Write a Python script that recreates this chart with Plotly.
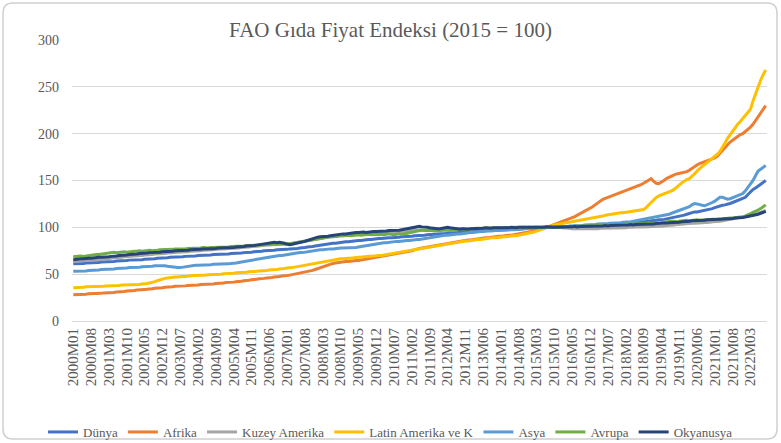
import plotly.graph_objects as go

# ---------------- data ----------------
months = [f"{y}M{m:02d}" for y in range(2000, 2023) for m in range(1, 13)][:273]

tick_labels = ["2000M01", "2000M08", "2001M03", "2001M10", "2002M05", "2002M12", "2003M07",
               "2004M02", "2004M09", "2005M04", "2005M11", "2006M06", "2007M01", "2007M08",
               "2008M03", "2008M10", "2009M05", "2009M12", "2010M07", "2011M02", "2011M09",
               "2012M04", "2012M11", "2013M06", "2014M01", "2014M08", "2015M03", "2015M10",
               "2016M05", "2016M12", "2017M07", "2018M02", "2018M09", "2019M04", "2019M11",
               "2020M06", "2021M01", "2021M08", "2022M03"]

dunya = [
    61, 61, 61.5, 61.5, 61.5, 62, 62, 62, 62.5, 62.5, 62.5, 63,
    63, 63, 63, 63.5, 63.5, 64, 64, 64, 64.5, 64.5, 65, 65,
    65, 65.5, 65.5, 65.5, 66, 66, 66, 66.5, 66.5, 67, 67, 67.5,
    67.5, 67.5, 68, 68, 68, 68.5, 68.5, 68.5, 69, 69, 69.5, 69.5,
    69.5, 70, 70, 70, 70.5, 70.5, 70.5, 71, 71, 71, 71.5, 71.5,
    71.5, 71.5, 72, 72, 72.5, 72.5, 72.5, 73, 73, 73.5, 73.5, 74,
    74, 74.5, 74.5, 75, 75, 75, 75.5, 75.5, 76, 76, 76.5, 76.5,
    76.5, 77, 77, 77.5, 77.5, 78, 78, 78.5, 79, 79, 79.5, 80,
    80.5, 81, 81.5, 82, 82, 82.5, 83, 83, 83.5, 84, 84, 84.5,
    84.5, 85, 85, 85.5, 86, 86, 86.5, 86.5, 87, 87, 87.5, 87.5,
    88, 88, 88.5, 88.5, 89, 89, 89, 89.5, 89.5, 90, 90, 90.5,
    90.5, 90.5, 91, 91, 91, 91.5, 91.5, 92, 92, 92.5, 92.5, 93,
    93, 93.5, 93.5, 94, 94, 94, 94.5, 94.5, 95, 95, 95.5, 95.5,
    95.5, 96, 96, 96, 96.5, 96.5, 96.5, 97, 97, 97, 97.5, 97.5,
    97.5, 97.5, 98, 98, 98, 98, 98, 98.5, 98.5, 98.5, 99, 99,
    99, 99, 99.5, 99.5, 99.5, 100, 100, 100, 100.5, 100.5, 100.5, 100.5,
    100.5, 100.5, 100.5, 101, 101, 101, 101, 101.5, 101.5, 101.5, 102, 102,
    102, 102, 102.5, 102.5, 102.5, 103, 103, 103, 103.5, 103.5, 103.5, 104,
    104, 104, 104.5, 104.5, 105, 105, 105.5, 105.5, 106, 106, 106.5, 107,
    107, 107.5, 108, 108, 108.5, 109, 109.5, 110, 110.5, 111, 111.5, 112,
    113, 114, 115, 116, 116.5, 116.5, 117, 117.5, 118, 118.5, 119, 120,
    121, 122, 123, 123.5, 124, 124.5, 125.5, 126.5, 127.5, 128.5, 129.5, 130.5,
    132, 135, 138, 140.5, 142, 144, 146, 148, 150]

afrika = [
    28, 28, 28, 28.5, 28.5, 28.5, 29, 29, 29, 29.5, 29.5, 29.5,
    30, 30, 30, 30.5, 30.5, 31, 31, 31.5, 31.5, 32, 32, 32.5,
    32.5, 33, 33, 33.5, 33.5, 34, 34, 34.5, 35, 35, 35.5, 35.5,
    36, 36, 36.5, 36.5, 37, 37, 37.5, 37.5, 37.5, 38, 38, 38.5,
    38.5, 38.5, 39, 39, 39, 39.5, 39.5, 39.5, 40, 40, 40.5, 40.5,
    41, 41, 41.5, 41.5, 42, 42, 42.5, 43, 43, 43.5, 44, 44,
    44.5, 45, 45, 45.5, 46, 46, 46.5, 47, 47, 47.5, 48, 48,
    48.5, 49, 49.5, 50, 50.5, 51, 51.5, 52, 53, 53.5, 54, 55,
    56, 57, 58, 59, 60, 61, 61.5, 62, 62.5, 63, 63, 63.5,
    63.5, 64, 64, 64.5, 64.5, 65, 65.5, 66, 66.5, 67, 67.5, 68,
    68.5, 69, 69.5, 70, 70, 70.5, 71, 71.5, 72, 72.5, 73, 73.5,
    74, 75, 76, 77, 77.5, 78, 78.5, 79, 79.5, 80, 80.5, 81,
    81.5, 82, 82.5, 83, 83.5, 84, 84, 84.5, 85, 85.5, 86, 86.5,
    86.5, 87, 87.5, 88, 88, 88.5, 89, 89, 89.5, 90, 90, 90.5,
    90.5, 91, 91, 91.5, 91.5, 92, 92, 92.5, 93, 93.5, 94, 94.5,
    95, 96, 97, 98, 99, 100, 100.5, 101, 102, 103, 104, 105,
    106, 107, 108, 109, 110, 111.5, 113, 114.5, 116, 117, 118.5, 120,
    122, 124, 126, 128, 130, 131, 132, 133, 134, 135, 136, 137,
    138, 139, 140, 141, 142, 143, 144, 145.5, 147, 148.5, 150, 152,
    149, 147, 146.5, 148, 150, 152, 153.5, 155, 156, 157, 157.5, 158,
    158.5, 159.5, 161, 163, 165, 166.5, 168, 169, 170, 171, 172, 173,
    174, 176, 179, 182, 185, 189, 191, 193, 195, 197, 199, 200,
    202, 204, 207, 210, 214, 218, 222, 226, 230]

kuzey_amerika = [
    63.5, 64, 64, 64.5, 64.5, 64.5, 65, 65, 65.5, 65.5, 66, 66,
    66.5, 66.5, 67, 67, 67.5, 67.5, 68, 68, 68.5, 68.5, 69, 69,
    69.5, 69.5, 70, 70, 70.5, 70.5, 71, 71, 71.5, 71.5, 72, 72,
    72, 72.5, 72.5, 73, 73, 73.5, 73.5, 73.5, 74, 74, 74.5, 74.5,
    74.5, 75, 75, 75.5, 75.5, 76, 76, 76, 76.5, 76.5, 77, 77,
    77, 77.5, 77.5, 78, 78, 78, 78.5, 78.5, 79, 79, 79.5, 79.5,
    80, 80, 80.5, 80.5, 81, 81, 81.5, 81.5, 81.5, 82, 82, 82,
    82, 82.5, 83, 83.5, 84, 84.5, 85, 85.5, 86, 86.5, 87, 87.5,
    88, 88.5, 89, 89, 89.5, 90, 90, 90.5, 90.5, 91, 91, 91,
    91.5, 91.5, 92, 92, 92, 92.5, 92.5, 93, 93, 93, 93.5, 93.5,
    93.5, 93.5, 94, 94, 94, 94.5, 94.5, 94.5, 95, 95, 95.5, 95.5,
    96, 96, 96.5, 96.5, 97, 97, 97, 97.5, 97.5, 97.5, 97.5, 97.5,
    97.5, 97.5, 98, 98, 98, 98, 98, 98, 98.5, 98.5, 98.5, 98.5,
    98.5, 98.5, 98.5, 99, 99, 99, 99, 99, 99, 99.5, 99.5, 99.5,
    99.5, 99.5, 99.5, 99.5, 99.5, 100, 100, 100, 100, 100, 100, 100,
    99.5, 99.5, 100, 100, 100, 100, 100, 100, 100, 100.5, 100.5, 100,
    99.5, 99.5, 99, 99, 98.5, 98.5, 98.5, 98, 98, 98, 98.5, 98.5,
    98.5, 98.5, 98.5, 99, 99, 99, 99, 99, 99.5, 99.5, 99.5, 99.5,
    99.5, 99.5, 100, 100, 100, 100, 100, 100, 100.5, 100.5, 100.5, 101,
    101, 101, 101.5, 101.5, 101.5, 102, 102, 102.5, 102.5, 103, 103, 103.5,
    103.5, 104, 104, 104, 104.5, 104.5, 104.5, 105, 105, 105.5, 105.5, 106,
    106, 106.5, 106.5, 107, 107.5, 107.5, 108, 108.5, 109, 109.5, 110, 110.5,
    111, 111.5, 112.5, 113, 114, 115, 116, 117, 118]

latin_amerika = [
    35.5, 35.5, 36, 36, 36, 36.5, 36.5, 36.5, 37, 37, 37, 37,
    37, 37.5, 37.5, 37.5, 38, 38, 38, 38.5, 38.5, 38.5, 39, 39,
    39, 39, 39, 39.5, 39.5, 40, 40.5, 41, 42, 43, 44, 45,
    45.5, 46, 46.5, 46.5, 47, 47, 47.5, 47.5, 47.5, 48, 48, 48.5,
    48.5, 48.5, 49, 49, 49, 49.5, 49.5, 49.5, 50, 50, 50, 50.5,
    50.5, 51, 51, 51, 51.5, 51.5, 52, 52, 52, 52.5, 52.5, 53,
    53, 53.5, 53.5, 54, 54, 54.5, 54.5, 55, 55, 55.5, 55.5, 56,
    56.5, 56.5, 57, 57.5, 58, 58.5, 59, 59.5, 60, 60.5, 61, 62,
    62.5, 63, 63.5, 64, 64.5, 65, 65.5, 66, 66, 66.5, 66.5, 67,
    67, 67, 67.5, 67.5, 68, 68, 68.5, 68.5, 69, 69, 69.5, 69.5,
    70, 70, 70.5, 71, 71, 71.5, 72, 72.5, 73, 73.5, 74, 74.5,
    75, 75.5, 76, 76.5, 77, 77.5, 78, 78.5, 79, 79.5, 80, 80.5,
    81, 81.5, 82, 82, 82.5, 83, 83.5, 84, 84.5, 85, 85.5, 85.5,
    86, 86, 86.5, 87, 87, 87.5, 88, 88, 88.5, 89, 89, 89.5,
    89.5, 90, 90, 90.5, 90.5, 91, 91, 91.5, 92, 92.5, 93, 93.5,
    94, 95, 96, 97, 98, 99, 100, 101, 102, 102.5, 103, 103.5,
    104, 104, 104.5, 105, 105.5, 106, 106.5, 107, 107.5, 108, 108.5, 109,
    109.5, 110, 110.5, 111, 112, 113, 113.5, 114, 114.5, 115, 115, 115.5,
    115.5, 116, 116, 116.5, 117, 117.5, 118, 118.5, 119, 121, 124, 127,
    130, 132, 133.5, 134.5, 135.5, 137, 138, 139, 140.5, 142.5, 145, 147.5,
    149.5, 151, 152, 154, 157, 160, 163, 165, 167, 169, 171, 173,
    175, 178, 181, 185, 190, 195, 199, 203, 207, 210, 213, 216,
    220, 222, 226, 235, 243, 250, 257, 263, 268]

asya = [
    53, 53, 53.5, 53.5, 53, 53.5, 54, 54, 54, 54.5, 54.5, 55,
    55, 55, 55.5, 55.5, 55.5, 56, 56, 56, 56.5, 56.5, 57, 57,
    57, 57.5, 57.5, 58, 58, 58, 58.5, 58.5, 59, 59, 59, 59.5,
    59, 58.5, 58, 57.5, 57, 57, 57, 57.5, 58, 58.5, 59, 59,
    59.5, 59.5, 59.5, 60, 60, 60, 60, 60.5, 60.5, 60.5, 60.5, 61,
    61, 61, 61.5, 61.5, 62, 62.5, 63, 63.5, 64, 64.5, 65, 65.5,
    66, 66.5, 67, 67.5, 68, 68, 68.5, 69, 69.5, 70, 70, 70.5,
    71, 71.5, 72, 72, 72.5, 73, 73, 73.5, 74, 74, 74.5, 75,
    75.5, 76, 76, 76.5, 76.5, 77, 77, 77.5, 77.5, 78, 78, 78,
    78, 78.5, 78.5, 78.5, 79, 79.5, 80, 80.5, 81, 81.5, 82, 82.5,
    83, 83, 83.5, 83.5, 84, 84.5, 84.5, 85, 85, 85.5, 85.5, 86,
    86, 86.5, 86.5, 87, 87, 87.5, 88, 88, 88.5, 89, 89.5, 90,
    90.5, 91, 91.5, 91.5, 92, 92.5, 92.5, 93, 93, 93.5, 94, 94,
    94.5, 94.5, 95, 95, 95.5, 95.5, 96, 96, 96, 96.5, 96.5, 96.5,
    97, 97, 97, 97.5, 97.5, 97.5, 97.5, 98, 98, 98.5, 98.5, 98.5,
    99, 99, 99.5, 99.5, 100, 100, 100, 100.5, 100.5, 100.5, 100.5, 101,
    101, 101, 101, 101.5, 101.5, 101.5, 102, 102, 102, 102.5, 102.5, 103,
    103, 103, 103.5, 103.5, 103.5, 104, 104, 104.5, 104.5, 105, 105, 105,
    105.5, 105.5, 106, 106, 106.5, 107, 107.5, 108, 108.5, 109, 109.5, 110,
    111, 111.5, 112, 112.5, 113, 113.5, 114, 115, 116, 117, 118, 119,
    120, 121, 122, 124, 125.5, 125, 124, 123.5, 123, 124, 125, 126.5,
    128, 130, 132, 132, 131, 130, 130.5, 131.5, 133, 134, 135, 136,
    139, 142.5, 146, 150, 155, 160, 162, 164, 166]

avrupa = [
    68.5, 69, 69, 69.5, 69, 69.5, 70, 70, 70.5, 71, 71, 71.5,
    72, 72.5, 73, 73, 73.5, 73, 73.5, 74, 74, 73.5, 74, 74,
    74.5, 74.5, 75, 74.5, 75, 75, 75.5, 75, 75, 75.5, 76, 76,
    76, 76.5, 76, 76.5, 77, 77, 76.5, 77, 77, 77.5, 77.5, 78,
    77.5, 78, 78, 78.5, 78, 78, 78.5, 78.5, 79, 78.5, 79, 79,
    79, 79, 79.5, 79.5, 80, 79.5, 80, 80, 80.5, 80.5, 81, 81,
    81, 81.5, 81.5, 82, 82, 81.5, 82, 82.5, 82, 82.5, 82.5, 83,
    82, 82.5, 83, 83.5, 84, 84.5, 85, 85.5, 86, 86.5, 87, 87.5,
    88, 88.5, 89, 89, 89.5, 90, 90, 90.5, 90.5, 91, 91, 91.5,
    91.5, 91, 91.5, 92, 92, 91.5, 92, 92, 92.5, 92, 92.5, 92.5,
    92, 92.5, 92, 92.5, 93, 92.5, 92, 92.5, 93, 92.5, 93, 93.5,
    94, 95, 95.5, 96, 96.5, 97, 96.5, 96.5, 97, 96.5, 96, 96.5,
    96.5, 97, 97, 97.5, 97, 97.5, 98, 98, 98, 98.5, 98, 98,
    98.5, 98.5, 99, 98.5, 98.5, 99, 99, 98.5, 99, 99, 99, 99.5,
    99, 99.5, 99.5, 99, 99.5, 99.5, 99, 99.5, 99.5, 100, 99.5, 100,
    99.5, 100, 100, 99.5, 100, 100, 100, 100, 100.5, 100, 100.5, 100,
    100.5, 100.5, 101, 100.5, 101, 101, 101.5, 101, 101.5, 101.5, 102, 101.5,
    102, 102, 102.5, 102, 102, 102.5, 102.5, 103, 102.5, 103, 103, 103,
    103, 103.5, 103, 103, 103.5, 103.5, 104, 103.5, 104, 104, 104.5, 104,
    104.5, 104.5, 105, 105, 105.5, 106, 106, 106.5, 106.5, 106, 106.5, 107,
    107, 107.5, 107, 107.5, 107.5, 108, 107.5, 108, 108, 108, 108.5, 108.5,
    108.5, 109, 109, 109, 109.5, 109.5, 110, 110, 110.5, 110.5, 111, 111,
    112, 113, 114.5, 116, 117, 118.5, 120, 122, 124]

okyanusya = [
    65.5, 66, 66, 66.5, 66.5, 67, 67, 67, 67.5, 67.5, 68, 68,
    68, 68.5, 68.5, 69, 69, 69.5, 70, 70, 70.5, 70.5, 71, 71,
    71.5, 71.5, 72, 72, 72.5, 72.5, 73, 73, 73, 73.5, 73.5, 74,
    74, 74, 74.5, 74.5, 75, 75, 75, 75.5, 75.5, 75.5, 76, 76,
    76, 76.5, 76.5, 77, 77, 77, 77.5, 77.5, 77.5, 78, 78, 78,
    78, 78.5, 78.5, 78.5, 79, 79, 79.5, 79.5, 80, 80, 80.5, 80.5,
    81, 81.5, 82, 82.5, 83, 83.5, 84, 84, 83.5, 84, 83.5, 83,
    82, 81.5, 82, 82.5, 83, 84, 84.5, 85, 86, 87, 88, 89,
    89.5, 90, 90, 90.5, 90.5, 91, 91.5, 92, 92, 92.5, 93, 93,
    93.5, 93.5, 94, 94.5, 94.5, 95, 95, 94.5, 95, 95, 95.5, 95.5,
    95.5, 95.5, 96, 96, 96.5, 96.5, 96.5, 97, 97, 97.5, 98, 98.5,
    99, 99.5, 100, 100.5, 101, 100.5, 100.5, 100, 99.5, 99, 99, 98.5,
    98.5, 99, 99.5, 100, 99.5, 99, 98.5, 98.5, 98, 98.5, 98, 98,
    98.5, 98.5, 99, 98.5, 99, 99, 99.5, 99, 99, 99.5, 99.5, 99,
    99, 99.5, 99.5, 99.5, 100, 99.5, 99.5, 100, 100, 99.5, 100, 100,
    100, 100, 99.5, 100, 100, 100, 100.5, 100, 100, 100, 100, 100.5,
    100, 100.5, 100.5, 100, 100.5, 101, 100.5, 101, 101, 101, 101.5, 101,
    101, 101.5, 101, 101.5, 101.5, 102, 101.5, 102, 102, 102, 102.5, 102,
    102.5, 102.5, 102.5, 103, 102.5, 103, 103, 103, 103.5, 103, 103.5, 103.5,
    103.5, 104, 104, 104, 104.5, 104.5, 105, 105, 105, 105.5, 105.5, 106,
    106, 106.5, 106.5, 107, 107, 107, 107.5, 107.5, 107.5, 108, 108, 108,
    108, 108.5, 108.5, 109, 109, 109, 109.5, 109.5, 110, 110, 110.5, 110.5,
    111, 111.5, 112, 113, 113.5, 114, 115, 116, 117]

series_names = ["Dünya", "Afrika", "Kuzey Amerika", "Latin Amerika ve K", "Asya", "Avrupa", "Okyanusya"]
series_values = [dunya, afrika, kuzey_amerika, latin_amerika, asya, avrupa, okyanusya]
series_colors = ["#4472C4", "#ED7D31", "#A5A5A5", "#FFC000", "#5B9BD5", "#70AD47", "#264478"]

y_ticks = [0, 50, 100, 150, 200, 250, 300]

# ---------------- figure ----------------
W, H = 781, 443
ML, MR, MT, MB = 72, 14, 40, 122
PW, PH = W - ML - MR, H - MT - MB
FONT = "Liberation Serif"
TXT = "#595959"

fig = go.Figure()
for name, vals, col in zip(series_names, series_values, series_colors):
    fig.add_trace(go.Scatter(x=months, y=vals, mode="lines", name=name,
                             line=dict(color=col, width=3)))


def px2paper(px, py):
    return (px - ML) / PW, (H - MB - py) / PH


def P(px, py):
    a, b = px2paper(px, py)
    return f"{a:.5f},{b:.5f}"


# rounded chart border
x0, y0, x1, y1, r = 3, 3, 777, 439, 10
path = (f"M {P(x0 + r, y0)} L {P(x1 - r, y0)} Q {P(x1, y0)} {P(x1, y0 + r)} "
        f"L {P(x1, y1 - r)} Q {P(x1, y1)} {P(x1 - r, y1)} "
        f"L {P(x0 + r, y1)} Q {P(x0, y1)} {P(x0, y1 - r)} "
        f"L {P(x0, y0 + r)} Q {P(x0, y0)} {P(x0 + r, y0)} Z")
fig.add_shape(type="path", xref="paper", yref="paper", path=path,
              line=dict(color="#d0d0d0", width=1.5), layer="below")

fig.update_layout(
    width=W, height=H, autosize=False,
    margin=dict(l=ML, r=MR, t=MT, b=MB, pad=0),
    paper_bgcolor="white", plot_bgcolor="white",
    font=dict(family=FONT, color=TXT, size=13),
    title=dict(text="FAO Gıda Fiyat Endeksi (2015 = 100)", x=0.5, xanchor="center",
               xref="container", y=1 - 30 / H, yanchor="middle",
               font=dict(family=FONT, size=21, color=TXT)),
    showlegend=True,
    legend=dict(orientation="h", xref="container", x=0.5, xanchor="center",
                yref="container", y=1 - 432 / H, yanchor="middle",
                font=dict(family=FONT, size=13, color=TXT),
                itemwidth=30, tracegroupgap=0, borderwidth=0,
                bgcolor="rgba(0,0,0,0)"),
    xaxis=dict(type="category", categoryorder="array", categoryarray=months,
               range=[-0.5, len(months) - 0.5],
               tickmode="array", tickvals=tick_labels, ticktext=tick_labels,
               tickangle=-90, tickfont=dict(family=FONT, size=15, color=TXT),
               showgrid=False, showline=True, linecolor="#d9d9d9", linewidth=1,
               ticks="", zeroline=False),
    yaxis=dict(range=[0, 300], tickmode="array", tickvals=y_ticks,
               tickfont=dict(family=FONT, size=14, color=TXT),
               showgrid=True, gridcolor="#d9d9d9", gridwidth=1,
               zeroline=False, showline=False, ticks="", ticklabelstandoff=12),
)

fig.write_html("out.html", config={"displayModeBar": False},
               post_script="document.body.style.margin='0';")
